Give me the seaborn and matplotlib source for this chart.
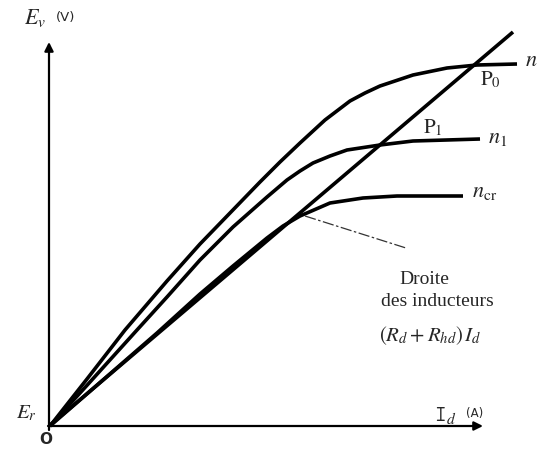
import numpy as np
import pandas as pd
import matplotlib
matplotlib.use("Agg")
import matplotlib.pyplot as plt
import seaborn as sns

# Magnetisation curves E_v(I_d) at three speeds (arbitrary units)
n_I = [0.1, 3.8, 7.6, 11.8, 15.1, 18.1, 21.1, 23.1, 25.1, 27.6, 30.1, 31.6, 33.1, 36.4, 39.8, 42.8, 46.8]
n_E = [0.0, 4.7, 9.6, 14.5, 18.2, 21.3, 24.4, 26.4, 28.3, 30.6, 32.5, 33.3, 34.0, 35.1, 35.8, 36.1, 36.2]

n1_I = [0.1, 4.1, 8.8, 11.8, 15.1, 18.4, 21.8, 23.8, 25.1, 26.4, 28.1, 29.8, 33.1, 36.4, 43.1]
n1_E = [0.0, 4.4, 9.6, 12.9, 16.6, 19.9, 22.9, 24.6, 25.5, 26.3, 27.0, 27.6, 28.1, 28.5, 28.7]

ncr_I = [0.1, 10.8, 15.1, 18.4, 21.8, 23.4, 25.1, 28.1, 31.4, 34.8, 41.4]
ncr_E = [0.0, 9.3, 13.2, 16.0, 18.8, 20.0, 21.0, 22.3, 22.8, 23.0, 23.0]

# Field-circuit resistance line (Rd + Rhd) Id
line_I = [0.0, 46.4]
line_E = [0.0, 39.4]

# Leader from the resistance line to its caption
leader_I = [25.6, 35.7]
leader_E = [21.0, 17.8]

curves = pd.concat([
    pd.DataFrame({"I": n_I, "E": n_E, "curve": "n"}),
    pd.DataFrame({"I": n1_I, "E": n1_E, "curve": "n1"}),
    pd.DataFrame({"I": ncr_I, "E": ncr_E, "curve": "ncr"}),
    pd.DataFrame({"I": line_I, "E": line_E, "curve": "droite"}),
])

sns.set_theme(style="white")
plt.rcParams["mathtext.fontset"] = "stix"
plt.rcParams["font.family"] = ["Liberation Serif", "DejaVu Serif"]

fig = plt.figure(figsize=(5.47, 4.5), dpi=100)
ax = fig.add_axes([0, 0, 1, 1])
ax.set_xlim(-4.9, 49.8)
ax.set_ylim(-2.4, 42.6)
ax.axis("off")

sns.lineplot(data=curves, x="I", y="E", units="curve", estimator=None,
             sort=False, color="black", lw=2.6, ax=ax, legend=False,
             solid_joinstyle="round", solid_capstyle="butt")
sns.lineplot(x=leader_I, y=leader_E, sort=False, color="#333333", lw=0.9,
             linestyle=(0, (9, 2, 2, 2)), ax=ax)

# Axes with arrow heads
arrow = dict(arrowstyle="-|>", color="black", lw=1.6, mutation_scale=13,
             shrinkA=0, shrinkB=0)
ax.annotate("", xy=(0.0, 38.4), xytext=(0.0, -0.4), arrowprops=arrow)
ax.annotate("", xy=(43.4, 0.0), xytext=(-0.1, 0.0), arrowprops=arrow)

# Axis labels
ax.text(-1.4, 40.8, r"$E_v$", fontsize=16, ha="center", va="center")
ax.text(1.7, 40.9, "(V)", fontsize=9.5, family="DejaVu Sans", ha="center", va="center")
ax.text(39.6, 1.0, r"$\mathtt{I}_d$", fontsize=16, ha="center", va="center")
ax.text(42.6, 1.2, "(A)", fontsize=8.5, family="DejaVu Sans", ha="center", va="center")
ax.text(-2.3, 1.3, r"$E_r$", fontsize=15, ha="center", va="center")
ax.text(-0.3, -1.4, "O", fontsize=11, family="DejaVu Sans", fontweight="bold",
        ha="center", va="center")

# Curve labels
ax.text(48.2, 36.4, r"$n$", fontsize=16, ha="center", va="center")
ax.text(44.1, 34.6, r"$\mathrm{P}_0$", fontsize=15, ha="center", va="center")
ax.text(38.4, 29.8, r"$\mathrm{P}_1$", fontsize=15, ha="center", va="center")
ax.text(44.9, 28.8, r"$n_{\mathrm{1}}$", fontsize=16, ha="center", va="center")
ax.text(43.6, 23.3, r"$n_{\mathrm{cr}}$", fontsize=16, ha="center", va="center")

ax.text(37.5, 14.7, "Droite", fontsize=14, ha="center", va="center")
ax.text(38.8, 12.4, "des inducteurs", fontsize=14, ha="center", va="center")
ax.text(38.1, 9.0, r"$(R_d+R_{hd})\,I_d$", fontsize=15, ha="center", va="center")

fig.savefig("out.png", dpi=100, facecolor="white")
